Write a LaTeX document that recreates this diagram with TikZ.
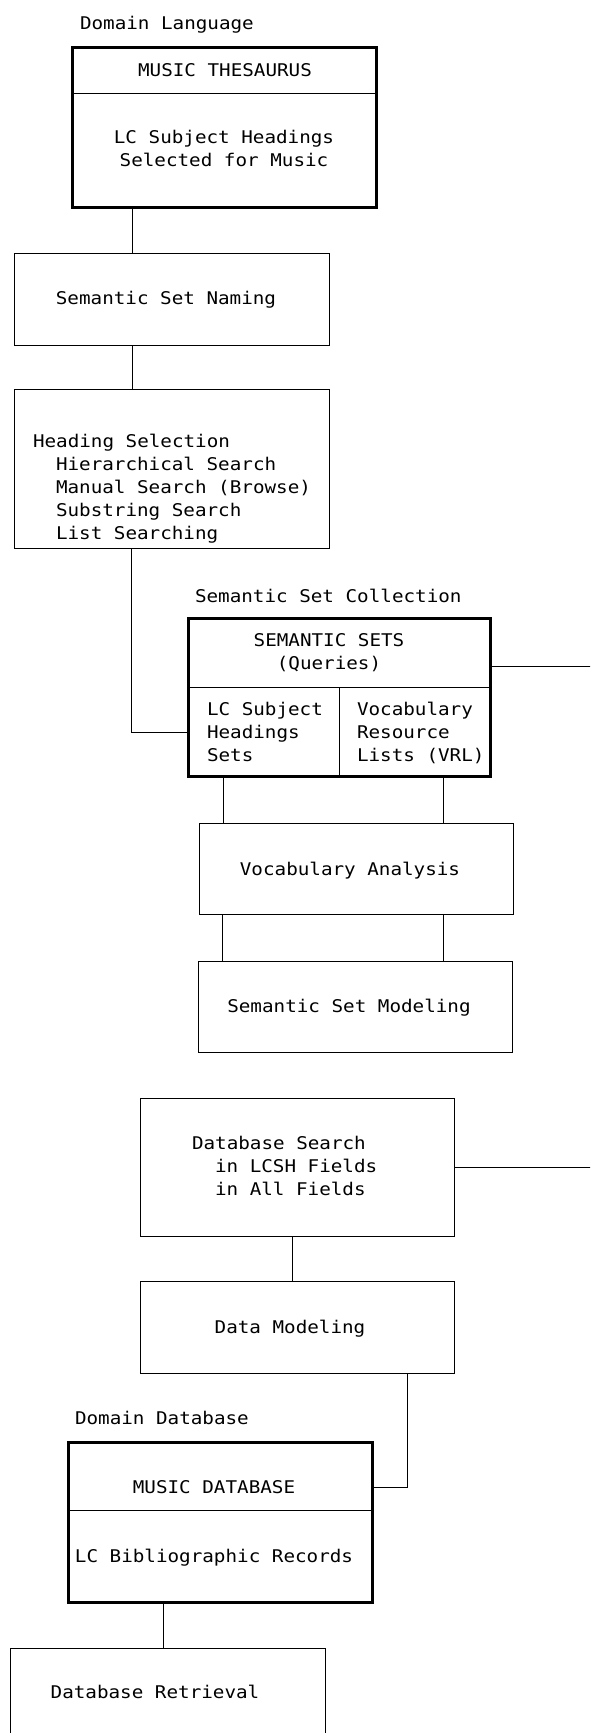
\documentclass[tikz,border=0pt]{standalone}
\usepackage{fontspec}
\usepackage{tikz}
\newfontfamily\plotter[FakeStretch=1.1]{DejaVu Sans Mono}
\usetikzlibrary{positioning}

\begin{document}
\begin{tikzpicture}[x=1pt, y=-1pt,
		every node/.style={font=\plotter\fontsize{17.5}{23}\selectfont, inner sep=0pt, outer sep=0pt},
		box/.style={draw, line width=1pt, anchor=north west},
		heavy/.style={box, line width=3pt},
		lbl/.style={anchor=base west},
		mid/.style={anchor=base},
		lines/.style={align=left, anchor=north west},
		link/.style={line width=1pt}]
		\useasboundingbox (0,0) rectangle (590,1733);
		\clip (0,0) rectangle (590,1733);
		
		% boxes
		\node[heavy, minimum width=304pt, minimum height=160pt] (thes) at (72,47) {};
		\node[box, minimum width=315pt, minimum height=92pt] (naming) at (14,253) {};
		\node[box, minimum width=315pt, minimum height=159pt] (heading) at (14,389) {};
		\node[heavy, minimum width=302pt, minimum height=158pt] (sets) at (188,618) {};
		\node[box, minimum width=314pt, minimum height=91pt] (vocab) at (199,823) {};
		\node[box, minimum width=314pt, minimum height=91pt] (ssmodel) at (198,961) {};
		\node[box, minimum width=314pt, minimum height=138pt] (dbsearch) at (140,1098) {};
		\node[box, minimum width=314pt, minimum height=92pt] (datamodel) at (140,1281) {};
		\node[heavy, minimum width=304pt, minimum height=160pt] (musicdb) at (68,1442) {};
		\node[box, minimum width=315pt, minimum height=120pt] (retrieval) at (10,1648) {};
		
		% dividers
		\draw[link] ([yshift=-46pt]thes.north west) -- ([yshift=-46pt]thes.north east);
		\draw[link] ([yshift=-69pt]sets.north west) -- ([yshift=-69pt]sets.north east);
		\draw[link] ([xshift=151pt,yshift=-69pt]sets.north west) -- ([xshift=151pt]sets.south west);
		\draw[link] ([yshift=-68pt]musicdb.north west) -- ([yshift=-68pt]musicdb.north east);
		
		% texts
		\node[lbl] (langlbl) at (80,29) {Domain Language};
		\node[mid] (thestitle) at (225,76) {MUSIC THESAURUS};
		\node[align=center, anchor=north] (thesbody) at (224,130) {LC Subject Headings\\Selected for Music};
		\node[mid] (namingtxt) at (166,304) {Semantic Set Naming};
		\node[lines] (headingtxt) at (33,434) {Heading Selection\\
			\hspace*{23pt}Hierarchical Search\\
			\hspace*{23pt}Manual Search (Browse)\\
			\hspace*{23pt}Substring Search\\
			\hspace*{23pt}List Searching};
		\node[lbl] (setslbl) at (195,602) {Semantic Set Collection};
		\node[align=center, anchor=north] (setstitle) at (329,634) {SEMANTIC SETS\\(Queries)};
		\node[lines] (lcsets) at (207,702) {LC Subject\\Headings\\Sets};
		\node[lines] (vrl) at (357,702) {Vocabulary\\Resource\\Lists (VRL)};
		\node[mid] (vocabtxt) at (350,875) {Vocabulary Analysis};
		\node[mid] (ssmodeltxt) at (349,1012) {Semantic Set Modeling};
		\node[lines] (dbsearchtxt) at (192,1136) {Database Search\\
			\hspace*{23pt}in LCSH Fields\\
			\hspace*{23pt}in All Fields};
		\node[mid] (datamodeltxt) at (290,1333) {Data Modeling};
		\node[lbl] (dblbl) at (75,1424) {Domain Database};
		\node[mid] (musicdbtitle) at (214,1493) {MUSIC DATABASE};
		\node[mid] (musicdbbody) at (214,1562) {LC Bibliographic Records};
		\node[mid] (retrievaltxt) at (155,1698) {Database Retrieval};
		
		% connectors
		\coordinate (setsout) at (600,666);
		\coordinate (dbout) at (600,1167);
		\draw[link] ([xshift=60pt]thes.south west) -- ([xshift=118pt]naming.north west);
		\draw[link] ([xshift=118pt]naming.south west) -- ([xshift=118pt]heading.north west);
		\draw[link] ([xshift=117pt]heading.south west) |- ([yshift=-114pt]sets.north west);
		\draw[link] ([yshift=-48pt]sets.north east) -- (setsout);
		\draw[link] ([xshift=35pt]sets.south west) -- ([xshift=24pt]vocab.north west);
		\draw[link] ([xshift=255pt]sets.south west) -- ([xshift=244pt]vocab.north west);
		\draw[link] ([xshift=23pt]vocab.south west) -- ([xshift=24pt]ssmodel.north west);
		\draw[link] ([xshift=244pt]vocab.south west) -- ([xshift=245pt]ssmodel.north west);
		\draw[link] ([yshift=-69pt]dbsearch.north east) -- (dbout);
		\draw[link] ([xshift=152pt]dbsearch.south west) -- ([xshift=152pt]datamodel.north west);
		\draw[link] ([xshift=267pt]datamodel.south west) |- ([yshift=-45pt]musicdb.north east);
		\draw[link] ([xshift=95pt]musicdb.south west) -- ([xshift=153pt]retrieval.north west);
		\end{tikzpicture}
\end{document}
